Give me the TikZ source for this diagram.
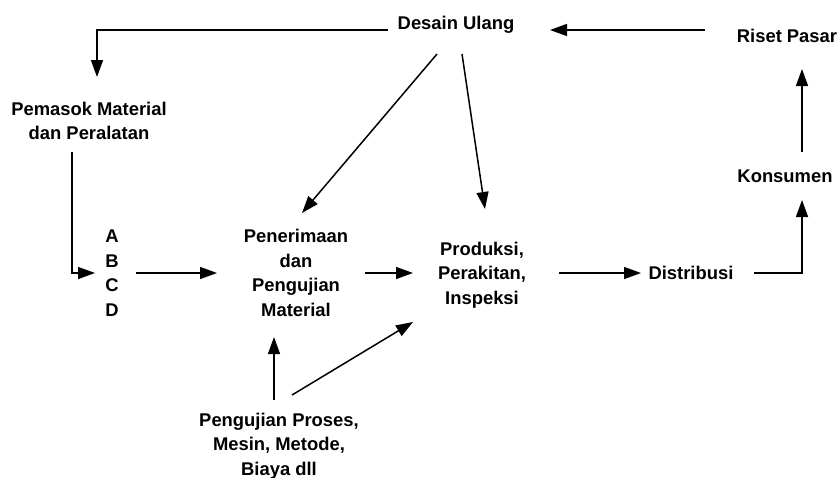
\documentclass[tikz,border=0pt]{standalone}
\usepackage{fontspec}
\setmainfont{Liberation Sans}
\usetikzlibrary{arrows.meta,calc}
\begin{document}
\begin{tikzpicture}[x=1pt,y=-1pt,
  lbl/.style={inner sep=0pt,align=center,font=\fontsize{18.4}{24.6}\selectfont\bfseries},
  arr/.style={line width=1.5pt,-{Triangle[length=17pt,width=12pt]}}]
\useasboundingbox (0,0) rectangle (840,477);

% labels
\node[lbl] (desain)    at (456,25)  {Desain Ulang};
\node[lbl] (riset)     at (787,36)  {Riset Pasar};
\node[lbl] (pemasok)   at (89,121)  {Pemasok Material\\dan Peralatan};
\node[lbl] (konsumen)  at (785,176) {Konsumen};
\node[lbl,align=left] (abcd) at (112,273) {A\\B\\C\\D};
\node[lbl] (pener)     at (296,273) {Penerimaan\\dan\\Pengujian\\Material};
\node[lbl] (produksi)  at (482,275) {Produksi,\\Perakitan,\\Inspeksi};
\node[lbl] (distribusi) at (691,273) {Distribusi};
\node[lbl] (pengujian) at (279,446) {Pengujian Proses,\\Mesin, Metode,\\Biaya dll};

% connectors
\draw[arr] ($(desain)+(-68,5)$) -| ($(pemasok)+(8,-44)$);
\draw[arr] ($(riset)+(-82,-6)$) -- ($(desain)+(94,5)$);
\draw[arr] ($(desain)+(-19,29)$) -- ($(pener)+(6,-60)$);
\draw[arr] ($(desain)+(6,29)$) -- ($(produksi)+(3,-66)$);
\draw[arr] ($(pemasok)+(-17,31)$) |- ($(abcd)+(-17,0)$);
\draw[arr] ($(abcd)+(24,0)$) -- ($(pener)+(-79,0)$);
\draw[arr] ($(pener)+(69,0)$) -- ($(produksi)+(-69,-2)$);
\draw[arr] ($(pengujian)+(-5,-46)$) -- ($(pener)+(-22,64)$);
\draw[arr] ($(pengujian)+(13,-51)$) -- ($(produksi)+(-69,47)$);
\draw[arr] ($(produksi)+(77,-2)$) -- ($(distribusi)+(-50,0)$);
\draw[arr] ($(distribusi)+(63,0)$) -| ($(konsumen)+(17,24)$);
\draw[arr] ($(konsumen)+(17,-24)$) -- ($(riset)+(15,33)$);
\end{tikzpicture}
\end{document}
